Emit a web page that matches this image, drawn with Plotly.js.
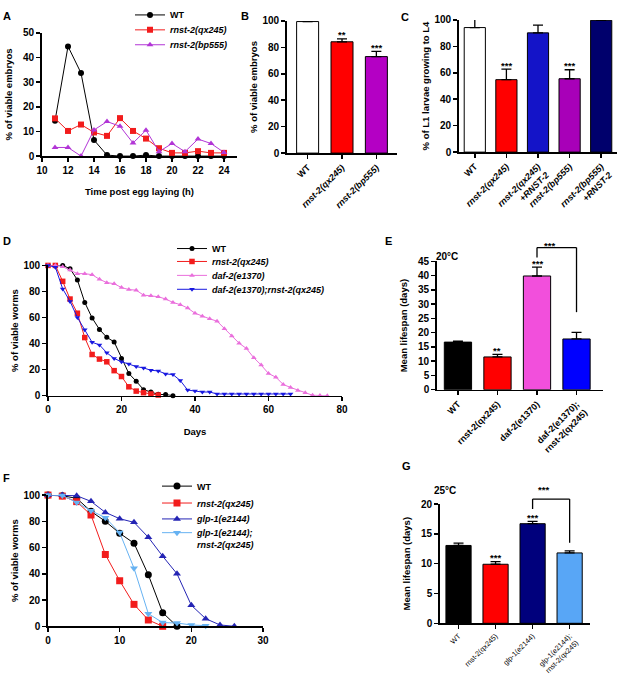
<!DOCTYPE html>
<html>
<head>
<meta charset="utf-8">
<script src="https://cdn.plot.ly/plotly-3.0.1.min.js"></script>
<style>
  body { margin: 0; background: #fff; }
  #chart { width: 617px; height: 674px; }
</style>
</head>
<body>
<div id="chart"></div>
<script>
// A - viable embryos by hour post egg laying
const hoursA = [11, 12, 13, 14, 15, 16, 17, 18, 19, 20, 21, 22, 23, 24];
const wtA = [14.3, 44.5, 33.7, 6.5, 0.4, 0, 0, 0.4, 0, 0, 0, 0, 0, 0];
const qxA = [15.3, 10.2, 12.8, 9.6, 8.2, 15.4, 10.2, 7.1, 3.2, 1.3, 1.3, 2, 1.3, 1.3];
const bpA = [3.5, 3.5, 0, 10.6, 14, 12.1, 5.3, 10.5, 1.8, 5.1, 1.8, 6.9, 5.1, 1.5];

// B - % viable embryos
const strainsB = ['WT', 'rnst-2(qx245)', 'rnst-2(bp555)'];
const meanB = [99.5, 84.2, 73];
const errB = [0.7, 2.2, 4];
const sigB = ['', '**', '***'];

// C - L1 larvae growing to L4
const strainsC = ['WT', 'rnst-2(qx245)', 'rnst-2(qx245) +RNST-2', 'rnst-2(bp555)', 'rnst-2(bp555) +RNST-2'];
const meanC = [94.2, 54.8, 90.2, 55.5, 99.7];
const errC = [8, 8, 5.8, 6.8, 0.8];
const sigC = ['', '***', '', '***', ''];

// D - survival at 20C
const daysD = [0, 2, 4, 6, 8, 10, 12, 14, 16, 18, 20, 22, 24, 26, 28, 30, 32, 34, 36, 38,
  40, 42, 44, 46, 48, 50, 52, 54, 56, 58, 60, 62, 64, 66, 68, 70, 72, 74, 76];
const wtD = [100, 100, 100, 97.5, 88.9, 71.6, 59.7, 50.9, 44.8, 41.3, 28.6, 17, 11.1, 4.6, 2.8, 1, 0.8, 0];
const qxD = [100, 100, 87.8, 74.2, 63.3, 44.6, 31.6, 28.1, 26, 19.2, 14.7, 6.8, 3.5, 2.3, 1.3, 0.5];
const dafD = [100, 100, 99, 96.5, 93.7, 93.7, 92.9, 89.4, 86.8, 86, 83, 81.5, 81, 77.2, 76.7, 76, 74.2, 71.6, 69.9, 67.3,
  63.3, 61, 59, 57.2, 51.4, 45.8, 40.3, 36.2, 29.1, 23.5, 17, 14.2, 8.6, 6.3, 4, 2.3, 0.3, 0.2, 0];
const dafQxD = [100, 98.7, 82, 72.4, 60, 50.6, 41, 39, 32.9, 28.6, 26, 24.3, 22.3, 21.3, 19.5, 19, 16.7, 16.2, 11.6, 4.3,
  3.5, 2.8, 2.8, 1.3, 1.3, 1.3, 1.3, 1.3, 1.3, 1.3, 1.3, 1.3, 1.3, 1.3];

// E - mean lifespan at 20C
const strainsE = ['WT', 'rnst-2(qx245)', 'daf-2(e1370)', 'daf-2(e1370); rnst-2(qx245)'];
const meanE = [16.7, 11.5, 39.9, 17.8];
const errE = [0.3, 0.9, 3.1, 2.3];
const sigE = ['', '**', '***', ''];

// F - survival at 25C
const daysF = [0, 2, 4, 6, 8, 10, 12, 14, 16, 18, 20, 22, 24, 26];
const wtF = [100, 99.5, 97.5, 87.6, 80, 70.9, 63.3, 39.2, 10.4, 0];
const qxF = [100, 99.2, 95, 84.8, 54.7, 34.7, 16.7, 4.8, 0];
const glpF = [100, 100, 99.5, 95.2, 86.8, 82, 79.2, 67.8, 53.4, 40, 16, 5.8, 1, 0];
const glpQxF = [100, 99.7, 94.4, 88.1, 82.8, 71.4, 44.3, 9.6, 2.8, 2.5, 1, 0.5];

// G - mean lifespan at 25C
const strainsG = ['WT', 'rnst-2(qx245)', 'glp-1(e2144)', 'glp-1(e2144); rnst-2(qx245)'];
const meanG = [13.05, 9.9, 16.7, 11.8];
const errG = [0.4, 0.45, 0.4, 0.35];
const sigG = ['', '***', '***', ''];

const W = 617, H = 674;
const FONT = 'Liberation Sans, Arial, sans-serif';
const px = v => v / W;          // pixel -> paper x
const py = v => 1 - v / H;      // pixel -> paper y

function axis(extra) {
    return Object.assign({
        showline: true, linecolor: '#000', linewidth: 1.8,
        ticks: 'outside', ticklen: 4, tickwidth: 1.5, tickcolor: '#000',
        showgrid: false, zeroline: false, fixedrange: true,
        tickfont: { family: FONT, size: 10, color: '#000', weight: 'bold' },
    }, extra);
}
function axTitle(text, size) {
    return { text: text, font: { family: FONT, size: size || 9.5, color: '#000', weight: 'bold' } };
}
function italic(s) { return '<i>' + s.replace(' ', '</i><br><i>') + '</i>'; }

function line(x, y, name, color, symbol, size, xa, ya, lg) {
    return {
        x: x.slice(0, y.length), y: y, name: name, type: 'scatter', mode: 'lines+markers',
        line: { color: color, width: 1 }, marker: { symbol: symbol, size: size, color: color },
        xaxis: xa, yaxis: ya, legend: lg, cliponaxis: false,
    };
}
function bars(cats, mean, err, colors, xa, ya, width) {
    return {
        type: 'bar', x: cats, y: mean, xaxis: xa, yaxis: ya, width: width, showlegend: false,
        marker: { color: colors, line: { color: '#000', width: 1 } },
        error_y: { type: 'data', symmetric: false, array: err, arrayminus: err.map(() => 0),
            color: '#000', thickness: 1.3, width: 5 },
    };
}

const data = [
    line(hoursA, wtA, 'WT', '#000', 'circle', 6, 'x', 'y', 'legend'),
    line(hoursA, qxA, 'rnst-2(qx245)', '#f21c1c', 'square', 6, 'x', 'y', 'legend2'),
    line(hoursA, bpA, 'rnst-2(bp555)', '#b235d6', 'triangle-up', 6, 'x', 'y', 'legend3'),
    bars(strainsB, meanB, errB, ['#fff', '#ff0000', '#b400c4'], 'x2', 'y2', 0.64),
    bars(strainsC, meanC, errC, ['#fff', '#ff0000', '#1414c8', '#a800b8', '#00006c'], 'x3', 'y3', 0.67),
    line(daysD, wtD, 'WT', '#000', 'circle', 5, 'x4', 'y4', 'legend4'),
    line(daysD, qxD, 'rnst-2(qx245)', '#f21c1c', 'square', 5.5, 'x4', 'y4', 'legend5'),
    line(daysD, dafD, 'daf-2(e1370)', '#ea6fdc', 'triangle-up', 5, 'x4', 'y4', 'legend6'),
    line(daysD, dafQxD, 'daf-2(e1370);rnst-2(qx245)', '#1818e0', 'triangle-down', 5, 'x4', 'y4', 'legend7'),
    bars(strainsE, meanE, errE, ['#000', '#ff0000', '#f24fdc', '#0000ff'], 'x5', 'y5', 0.69),
    line(daysF, wtF, 'WT', '#000', 'circle', 7, 'x6', 'y6', 'legend8'),
    line(daysF, qxF, 'rnst-2(qx245)', '#f21c1c', 'square', 7, 'x6', 'y6', 'legend9'),
    line(daysF, glpF, 'glp-1(e2144)', '#2424b4', 'triangle-up', 7, 'x6', 'y6', 'legend10'),
    line(daysF, glpQxF, 'glp-1(e2144);<br>rnst-2(qx245)', '#66b2f2', 'triangle-down', 7, 'x6', 'y6', 'legend11'),
    bars(strainsG, meanG, errG, ['#000', '#ff0000', '#00007c', '#58a6f6'], 'x7', 'y7', 0.68),
];

function legendAt(xp, yp, isItalic, extra) {
    return Object.assign({
        x: px(xp), y: py(yp), xanchor: 'left', yanchor: 'middle', bgcolor: 'rgba(0,0,0,0)',
        borderwidth: 0, itemclick: false,
        font: { family: FONT, size: 9, color: '#000', weight: 'bold', style: isItalic ? 'italic' : 'normal' },
    }, extra || {});
}

function stars(cats, mean, err, sig, xa, ya) {
    return cats.map((c, i) => ({
        x: c, y: mean[i] + err[i], xref: xa, yref: ya, text: sig[i], showarrow: false,
        yanchor: 'middle', yshift: 4, font: { family: FONT, size: 9.5, color: '#000', weight: 'bold' },
    })).filter(a => a.text);
}
function panelLabel(t, xp, yp) {
    return { text: t, x: px(xp), y: py(yp), xref: 'paper', yref: 'paper', xanchor: 'left', yanchor: 'middle',
        showarrow: false, font: { family: FONT, size: 11, color: '#000', weight: 'bold' } };
}
function note(t, xp, yp, size) {
    return { text: t, x: px(xp), y: py(yp), xref: 'paper', yref: 'paper', showarrow: false,
        font: { family: FONT, size: size, color: '#000', weight: 'bold' } };
}
function bracket(xa, yLeft, yTop, yRight) {
    const s = { type: 'line', xref: xa, yref: 'paper', line: { color: '#000', width: 1.3 } };
    return [
        Object.assign({ x0: 2, x1: 2, y0: py(yLeft), y1: py(yTop) }, s),
        Object.assign({ x0: 2, x1: 3, y0: py(yTop), y1: py(yTop) }, s),
        Object.assign({ x0: 3, x1: 3, y0: py(yTop), y1: py(yRight) }, s),
    ];
}

const catFont = { family: FONT, size: 9, color: '#000', weight: 'bold' };

const layout = {
    width: W, height: H, autosize: false,
    margin: { l: 0, r: 0, t: 0, b: 0 },
    paper_bgcolor: '#fff', plot_bgcolor: 'rgba(0,0,0,0)',
    font: { family: FONT, color: '#000' },
    bargap: 0,

    // A
    xaxis: axis({ domain: [px(42), px(237)], range: [10, 25], tickvals: [10, 12, 14, 16, 18, 20, 22, 24],
        anchor: 'y', title: axTitle('Time post egg laying (h)'), }),
    yaxis: axis({ domain: [py(153), py(29)], range: [0, 50], dtick: 10, anchor: 'x',
        title: axTitle('% of viable embryos') }),
    // B
    xaxis2: axis({ domain: [px(287), px(397)], range: [-0.6, 2.6], anchor: 'y2', tickangle: -45,
        tickmode: 'array', tickvals: strainsB, ticktext: strainsB.map((s, i) => i ? italic(s) : s), tickfont: catFont }),
    yaxis2: axis({ domain: [py(150), py(17)], range: [0, 100], dtick: 20, anchor: 'x2',
        title: axTitle('% of viable embryos') }),
    // C
    xaxis3: axis({ domain: [px(459), px(617)], range: [-0.5, 4.5], anchor: 'y3', tickangle: -45,
        tickmode: 'array', tickvals: strainsC, ticktext: strainsC.map((s, i) => i ? italic(s) : s), tickfont: catFont }),
    yaxis3: axis({ domain: [py(149), py(16)], range: [0, 100], dtick: 20, anchor: 'x3',
        title: axTitle('% of L1 larvae growing to L4') }),
    // D
    xaxis4: axis({ domain: [px(48), px(342)], range: [0, 80], dtick: 20, anchor: 'y4', title: axTitle('Days') }),
    yaxis4: axis({ domain: [py(394), py(263)], range: [0, 100], dtick: 20, anchor: 'x4',
        title: axTitle('% of viable worms') }),
    // E
    xaxis5: axis({ domain: [px(437), px(603)], range: [-0.53, 3.67], anchor: 'y5', tickangle: -45,
        tickmode: 'array', tickvals: strainsE, ticktext: strainsE.map(s => s.replace(' ', '<br>')), tickfont: catFont }),
    yaxis5: axis({ domain: [py(388), py(259)], range: [0, 45], dtick: 5, anchor: 'x5',
        title: axTitle('Mean lifespan (days)') }),
    // F
    xaxis6: axis({ domain: [px(48), px(263)], range: [0, 30], dtick: 10, anchor: 'y6' }),
    yaxis6: axis({ domain: [py(626), py(494)], range: [0, 100], dtick: 20, anchor: 'x6',
        title: axTitle('% of viable worms') }),
    // G
    xaxis7: axis({ domain: [px(440), px(590)], range: [-0.5, 3.55], anchor: 'y7', tickangle: -45,
        tickmode: 'array', tickvals: strainsG, ticktext: strainsG.map(s => s.replace(' ', '<br>')),
        tickfont: { family: FONT, size: 7.2, color: '#000' } }),
    yaxis7: axis({ domain: [py(623), py(503)], range: [0, 20], dtick: 5, anchor: 'x7',
        title: axTitle('Mean lifespan (days)') }),

    legend: legendAt(130, 11, false),
    legend2: legendAt(130, 26, true),
    legend3: legendAt(130, 41, true),
    legend4: legendAt(172, 246, false),
    legend5: legendAt(172, 259, true),
    legend6: legendAt(172, 273, true),
    legend7: legendAt(172, 287, true),
    legend8: legendAt(157, 485, false),
    legend9: legendAt(157, 502, true),
    legend10: legendAt(157, 518, true),
    legend11: legendAt(157, 538, true, { valign: 'top' }),

    shapes: [].concat(bracket('x5', 255, 245, 310), bracket('x7', 508, 498, 542)),

    annotations: [].concat(
        stars(strainsB, meanB, errB, sigB, 'x2', 'y2'),
        stars(strainsC, meanC, errC, sigC, 'x3', 'y3'),
        stars(strainsE, meanE, errE, sigE, 'x5', 'y5'),
        stars(strainsG, meanG, errG, sigG, 'x7', 'y7'),
        [
            note('***', 557, 243, 9.5),
            note('***', 551, 496, 9.5),
            note('20°C', 460, 254, 10),
            note('25°C', 458, 497, 10),
            panelLabel('A', 1, 12), panelLabel('B', 239, 12), panelLabel('C', 399, 13),
            panelLabel('D', 1, 238), panelLabel('E', 383, 238),
            panelLabel('F', 1, 477), panelLabel('G', 400, 465),
        ]
    ),
};

Plotly.newPlot('chart', data, layout, { displayModeBar: false, staticPlot: true });
</script>
</body>
</html>
